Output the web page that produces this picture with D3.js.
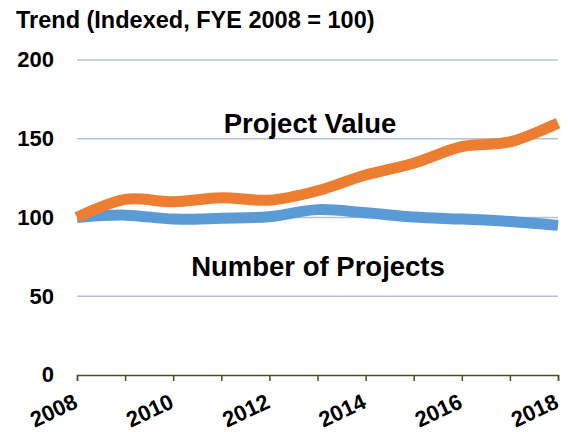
<!DOCTYPE html>
<html lang="en">
<head>
    <meta charset="UTF-8">
    <title>Trend</title>
    <script src="https://d3js.org/d3.v7.min.js"></script>
</head>
<style>
    html,body {
        margin: 0;
        padding: 0;
        background: #fff;
    }
    text { font-family: "Liberation Sans", Arial, sans-serif; font-weight: bold; }
</style>
<body>
    <div id="svg"></div>
</body>
<script>
    const years = [2008, 2009, 2010, 2011, 2012, 2013, 2014, 2015, 2016, 2017, 2018];
    const projectValue = [100, 111.5, 110, 112.5, 111, 117, 127, 134.5, 145, 148, 160];
    const numberOfProjects = [100, 101.5, 99, 99.5, 100.5, 105, 103, 100.3, 99, 97.5, 95];
    const yTicks = [0, 50, 100, 150, 200];
    const xLabels = [2008, 2010, 2012, 2014, 2016, 2018];

    const width = 568;
    const height = 432;

    const xScale = d3.scaleLinear().domain([2008, 2018]).range([77, 558]);
    const yScale = d3.scaleLinear().domain([0, 200]).range([375, 60]);

    const svg = d3.select('#svg').append('svg')
        .attr('width', width)
        .attr('height', height);

    // 标题
    svg.append('text')
        .attr('x', 16).attr('y', 28)
        .attr('font-size', '23.5px')
        .attr('fill', '#000')
        .text('Trend (Indexed, FYE 2008 = 100)');

    // 网格线
    svg.append('g').selectAll('line')
        .data(yTicks.filter(d => d > 0))
        .join('line')
        .attr('x1', xScale(2008)).attr('x2', xScale(2018))
        .attr('y1', d => yScale(d)).attr('y2', d => yScale(d))
        .attr('stroke', '#b7c1d3')
        .attr('stroke-width', 1.5);

    // y轴文字
    svg.append('g').selectAll('text')
        .data(yTicks)
        .join('text')
        .attr('x', 54)
        .attr('y', d => yScale(d))
        .attr('dy', '0.34em')
        .attr('text-anchor', 'end')
        .attr('font-size', '22px')
        .text(d => d);

    // x轴
    const xAxis = d3.axisBottom(xScale)
        .tickValues(years)
        .tickSize(6)
        .tickFormat('');
    const gX = svg.append('g').attr('transform', `translate(0, ${yScale(0)})`).call(xAxis);
    gX.selectAll('path, line').attr('stroke', '#4f4f22').attr('stroke-width', 1.5);

    svg.append('g').selectAll('text')
        .data(xLabels)
        .join('text')
        .attr('transform', d => `translate(${xScale(d) + 2}, 407) rotate(-25)`)
        .attr('text-anchor', 'end')
        .attr('font-size', '22px')
        .text(d => d);

    // 折线
    const line = d3.line()
        .x((d, i) => xScale(years[i]))
        .y(d => yScale(d))
        .curve(d3.curveCatmullRom.alpha(0.5));

    svg.append('path')
        .datum(numberOfProjects)
        .attr('d', line)
        .attr('fill', 'none')
        .attr('stroke', '#5b9bd5')
        .attr('stroke-width', 11);

    svg.append('path')
        .datum(projectValue)
        .attr('d', line)
        .attr('fill', 'none')
        .attr('stroke', '#ed7d31')
        .attr('stroke-width', 11);

    // 系列标签
    svg.append('text')
        .attr('x', 310).attr('y', 133)
        .attr('text-anchor', 'middle')
        .attr('font-size', '27.5px')
        .text('Project Value');
    svg.append('text')
        .attr('x', 318).attr('y', 276)
        .attr('text-anchor', 'middle')
        .attr('font-size', '27.5px')
        .text('Number of Projects');
</script>
</html>
